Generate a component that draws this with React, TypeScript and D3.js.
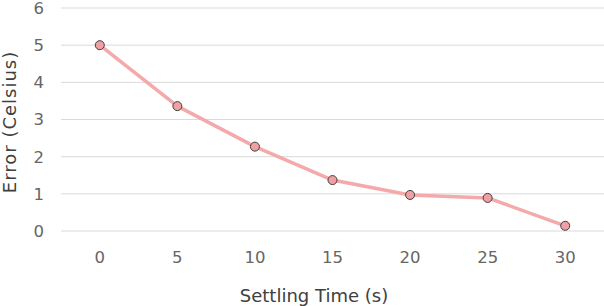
import React from "react";
import * as d3 from "d3";

const categories = ["0", "5", "10", "15", "20", "25", "30"];
const errorValues = [5.0, 3.36, 2.27, 1.37, 0.97, 0.89, 0.14];
const yTicks = [0, 1, 2, 3, 4, 5, 6];

const W = 604;
const H = 306;
const left = 61;
const right = 604;
const top = 8;
const bottom = 231;

export default function App() {
  const x = d3.scaleBand<string>().domain(categories).range([left, right]);
  const y = d3.scaleLinear().domain([0, 6]).range([bottom, top]);
  const pts = categories.map((c, i) => [x(c)! + x.bandwidth() / 2, y(errorValues[i])] as [number, number]);
  const line = d3.line()(pts) || "";
  const font = "'DejaVu Sans', Verdana, sans-serif";
  return (
    <svg width={W} height={H} style={{ position: "absolute", left: 0, top: 0 }}>
      <rect width={W} height={H} fill="#fff" />
      {yTicks.map((t) => (
        <g key={t}>
          <line x1={left} x2={right} y1={y(t)} y2={y(t)} stroke="#d9d9d9" strokeWidth={1} />
          <text x={44} y={y(t)} dy="0.36em" textAnchor="end" fontFamily={font} fontSize={16.5} fill="#666">
            {t}
          </text>
        </g>
      ))}
      {categories.map((c) => (
        <text key={c} x={x(c)! + x.bandwidth() / 2} y={263} textAnchor="middle" fontFamily={font} fontSize={16.5} fill="#666">
          {c}
        </text>
      ))}
      <path d={line} fill="none" stroke="#f4a9ab" strokeWidth={3.5} strokeLinejoin="round" />
      {pts.map((p, i) => (
        <circle key={i} cx={p[0]} cy={p[1]} r={4.5} fill="#f0a0a2" stroke="#404040" strokeWidth={1} />
      ))}
      <text x={314} y={302} textAnchor="middle" fontFamily={font} fontSize={18} fill="#404040">
        Settling Time (s)
      </text>
      <text transform={`translate(16,122) rotate(-90)`} textAnchor="middle" fontFamily={font} fontSize={18} letterSpacing={1} fill="#404040">
        Error (Celsius)
      </text>
    </svg>
  );
}
